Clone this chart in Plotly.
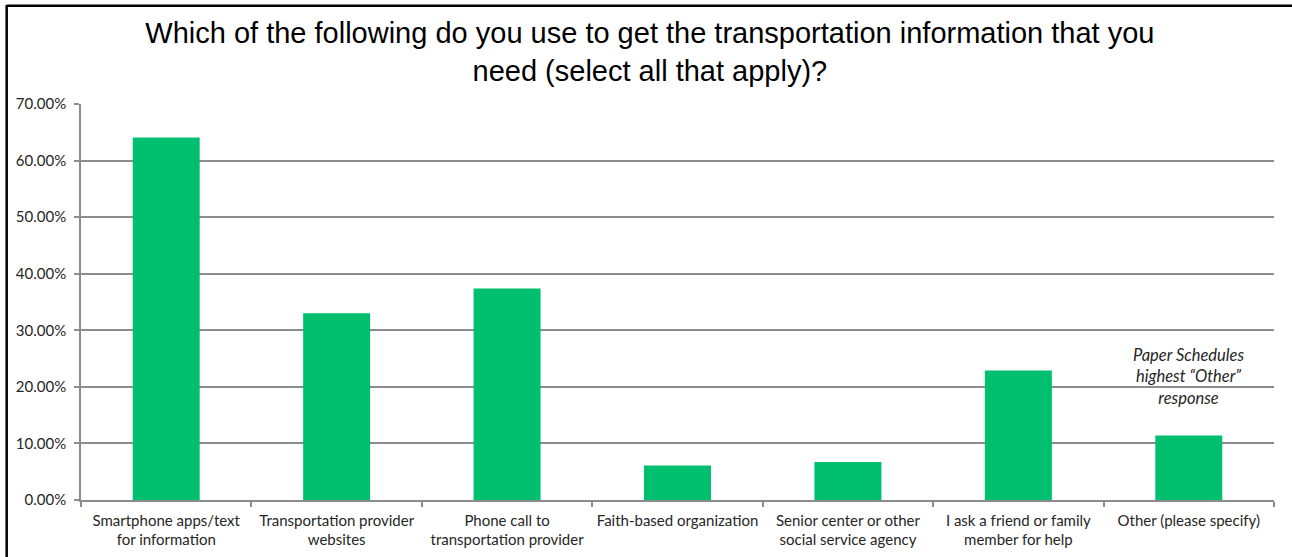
import plotly.graph_objects as go

categories = [
    "Smartphone apps/text<br>for information",
    "Transportation provider<br>websites",
    "Phone call to<br>transportation provider",
    "Faith-based organization",
    "Senior center or other<br>social service agency",
    "I ask a friend or family<br>member for help",
    "Other (please specify)",
]
values = [0.641, 0.330, 0.374, 0.061, 0.067, 0.229, 0.114]
title_text = ("Which of the following do you use to get the transportation information that you"
              "<br>need (select all that apply)?")
note_text = "Paper Schedules<br>highest \u201cOther\u201d<br>response"
note_y = 0.219

BAR = "#00BF6F"
GRID = "#8c8c8c"
TICKFONT = dict(family="Lato, 'Open Sans', sans-serif", size=15, color="#262626")

fig = go.Figure(go.Bar(x=categories, y=values, marker=dict(color=BAR, line=dict(width=0))))

fig.update_layout(
    width=1292, height=557,
    margin=dict(l=81, r=18, t=104, b=57),
    paper_bgcolor="white", plot_bgcolor="white",
    bargap=0.607,
    showlegend=False,
    title=dict(text=title_text, x=0.503, xanchor="center", xref="container",
               y=0.922, yanchor="top", yref="container",
               font=dict(family="'Liberation Sans', Arial, sans-serif", size=29, color="#000000")),
)
fig.update_yaxes(range=[0, 0.7], dtick=0.1, tickformat=".2%",
                 showgrid=True, gridcolor=GRID, gridwidth=1.6,
                 showline=True, linecolor=GRID, linewidth=1.6,
                 ticks="outside", ticklen=5, tickcolor=GRID, tickwidth=1.6,
                 ticklabelstandoff=5, automargin=False,
                 zeroline=False, tickfont=TICKFONT, fixedrange=True)
fig.update_xaxes(type="category", showgrid=False, showline=True, linecolor=GRID, linewidth=1.6,
                 ticks="outside", tickson="boundaries", ticklen=5, tickcolor=GRID, tickwidth=1.6,
                 ticklabelstandoff=6, automargin=False,
                 tickfont=TICKFONT, tickangle=0, fixedrange=True)

fig.add_annotation(x=categories[6], y=note_y, text=note_text, showarrow=False,
                   xanchor="center", yanchor="middle",
                   font=dict(family="Lato, 'Open Sans', sans-serif", size=16.5, color="#262626", style="italic"))

# outer frame (top and left edges visible in the reference)
fig.add_shape(type="line", xref="paper", yref="paper", x0=-0.0623, x1=1.02, y0=1.248, y1=1.248,
              line=dict(color="black", width=2.5))
fig.add_shape(type="line", xref="paper", yref="paper", x0=-0.0623, x1=-0.0623, y0=1.25, y1=-0.16,
              line=dict(color="black", width=2.5))

fig.write_html("out.html")
